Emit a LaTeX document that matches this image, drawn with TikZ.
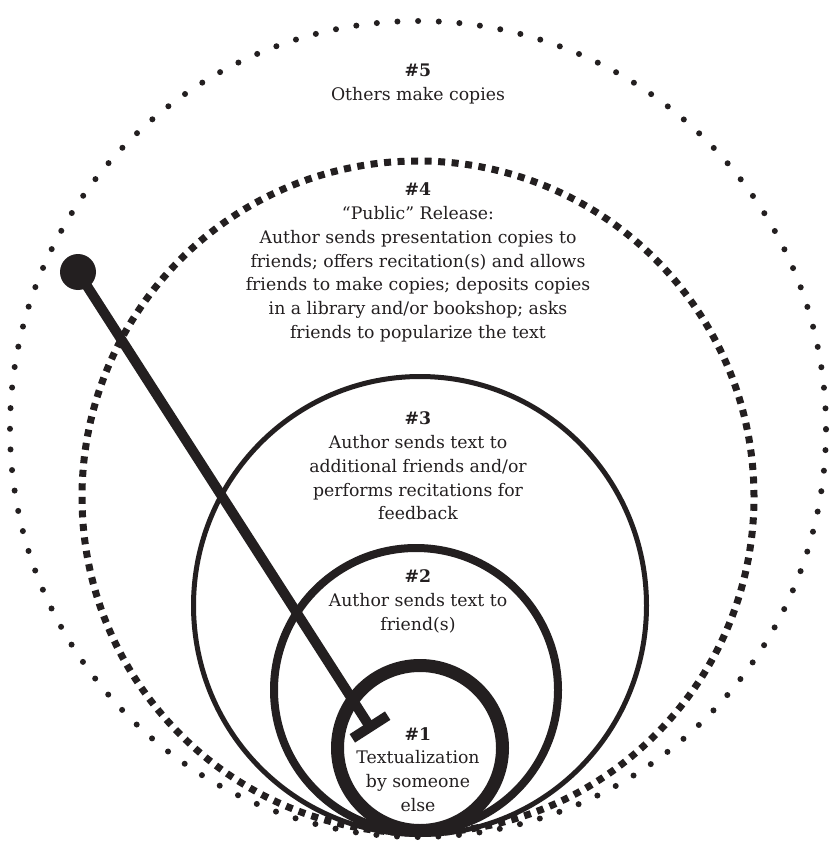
\documentclass[tikz,border=0pt]{standalone}
\usepackage{fontspec}
\setmainfont{DejaVu Serif}
\usetikzlibrary{calc}
\definecolor{ink}{HTML}{231F20}
\tikzset{
  lbl/.style={align=center, text=ink, font=\fontsize{17.3}{23.8}\selectfont, inner sep=0pt},
  ring/.style={draw=ink, line width=#1},
  roundDots/.style={draw=ink, line width=6pt, line cap=round, dash pattern=on 0pt off 20.673pt},
  squareDots/.style={draw=ink, line width=7pt, dash pattern=on 7pt off 6.533pt},
  pinline/.style={draw=ink, line width=10pt},
}
\begin{document}
\begin{tikzpicture}[x=1pt,y=-1pt]
\useasboundingbox (0,0) rectangle (834,842);
\fill[white] (0,0) rectangle (834,842);
% rings
\draw[roundDots] (418,429) circle[radius=408pt];
\draw[squareDots] (418,497) circle[radius=336pt];
\draw[ring=5pt] (420,605.5) ellipse[x radius=226.5pt, y radius=229pt];
\draw[ring=8pt] (416,690) circle[radius=142pt];
\draw[ring=13pt] (420,748) circle[radius=82.5pt];
% pin
\node[circle, fill=ink, minimum size=36pt, inner sep=0pt] (ball) at (78,272) {};
\coordinate (pinend) at (370,727);
\draw[pinline] (ball.center) -- (pinend);
\draw[pinline] ($(pinend)!21pt!90:(ball.center)$) -- ($(pinend)!21pt!-90:(ball.center)$);
% labels
\node[lbl] (t5) at (418,84) {\textbf{\#5}\\Others make copies};
\node[lbl] (t4) at (418,262.5) {\textbf{\#4}\\“Public” Release:\\Author sends presentation copies to\\friends; offers recitation(s) and allows\\friends to make copies; deposits copies\\in a library and/or bookshop; asks\\friends to popularize the text};
\node[lbl] (t3) at (418,466) {\textbf{\#3}\\Author sends text to\\additional friends and/or\\performs recitations for\\feedback};
\node[lbl] (t2) at (418,601.5) {\textbf{\#2}\\Author sends text to\\friend(s)};
\node[lbl] (t1) at (418,769.5) {\textbf{\#1}\\Textualization\\by someone\\else};
\end{tikzpicture}
\end{document}
